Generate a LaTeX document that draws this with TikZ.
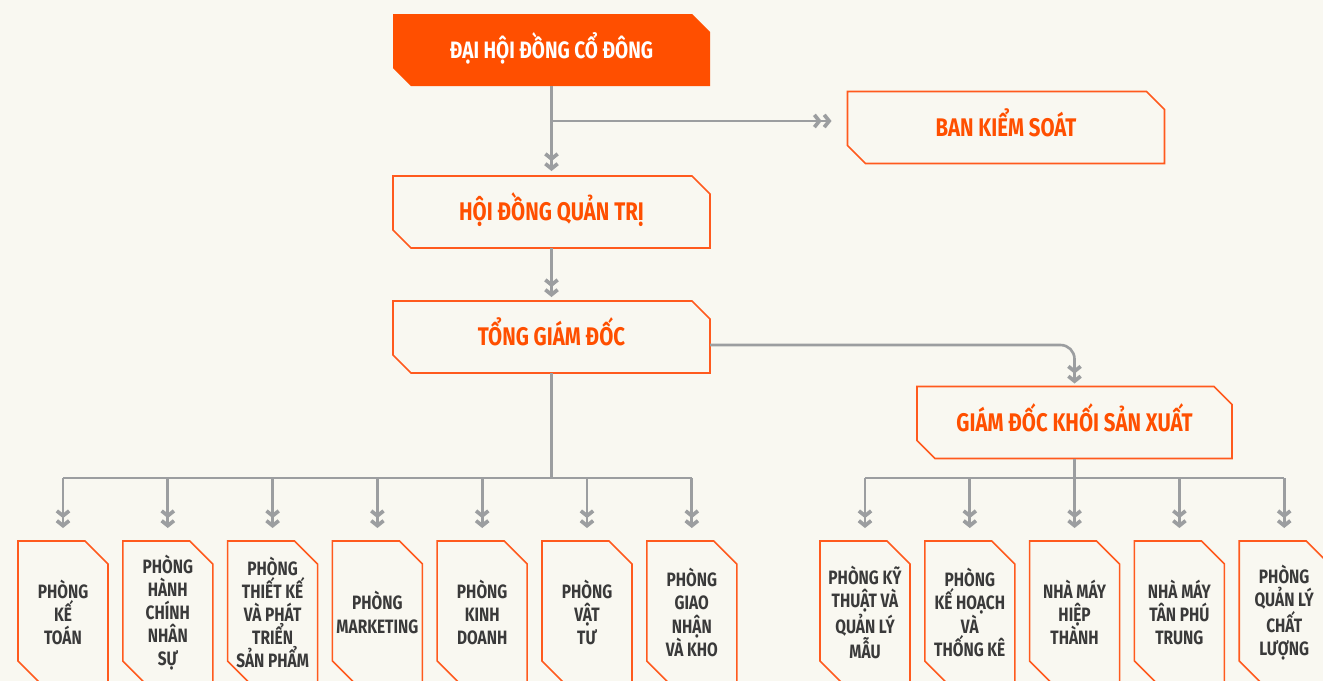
\documentclass[tikz,border=0pt]{standalone}
\usepackage{fontspec}
\newfontfamily\orgfont{Fira Sans}[FakeStretch=0.8]
\usetikzlibrary{positioning, arrows.meta}

\definecolor{paper}{HTML}{F9F8F1}
\definecolor{orgorange}{HTML}{FF4F00}
\definecolor{frameorange}{HTML}{FF5A1E}
\definecolor{linkgray}{HTML}{9C9EA0}
\definecolor{textgray}{HTML}{3A3A3A}

\pgfdeclarelayer{paperlayer}
\pgfdeclarelayer{background}
\pgfsetlayers{paperlayer,background,main}

\newcommand\cutframe[3][]{%
    \draw[#1] (#2.north west) -- ([xshift=-#3]#2.north east) -- ([yshift=-#3]#2.north east)
        -- (#2.south east) -- ([xshift=#3]#2.south west) -- ([yshift=#3]#2.south west) -- cycle;}

\tikzset{
    dchev/.tip={Straight Barb[length=2.8pt,width=7pt,line width=2.1pt,sep=0.4pt]Straight Barb[length=2.8pt,width=7pt,line width=2.1pt]},
    head/.style={minimum width=6.34cm, minimum height=1.44cm, inner sep=0pt, outer sep=0pt, text=orgorange,
        text height=10pt, text depth=0.3pt, font=\orgfont\bfseries\fontsize{14.5}{16}\selectfont},
    dept/.style={minimum width=1.8cm, minimum height=2.86cm, inner sep=0pt, outer sep=0pt, align=center,
        text=textgray, font=\orgfont\bfseries\fontsize{11}{13.2}\selectfont},
    frame/.style={draw=frameorange, line width=0.9pt, line join=miter},
    bar/.style={draw=linkgray, line width=1.5pt},
    link/.style={bar, -dchev},
}

\begin{document}
\begin{tikzpicture}
    \useasboundingbox (0,0) rectangle (26.46,-13.62);
    \begin{pgfonlayer}{paperlayer}
        \fill[paper] (0,0) rectangle (26.46,-13.62);
    \end{pgfonlayer}

    \node[head, text=white, font=\orgfont\bfseries\fontsize{13.5}{15}\selectfont] (dhdcd) at (11.03,-1.0) {ĐẠI HỘI ĐỒNG CỔ ĐÔNG};
    \node[head] (bks) at (20.12,-2.55) {BAN KIỂM SOÁT};
    \node[head, below=1.8cm of dhdcd] (hdqt) {HỘI ĐỒNG QUẢN TRỊ};
    \node[head, below=1.06cm of hdqt] (tgd) {TỔNG GIÁM ĐỐC};
    \node[head, minimum width=6.3cm] (gdk) at (21.49,-8.45) {GIÁM ĐỐC KHỐI SẢN XUẤT};

    \node[dept] (d1) at (1.26,-12.25) {PHÒNG\\KẾ\\TOÁN};
    \node[dept, right=0.296cm of d1] (d2) {PHÒNG\\HÀNH\\CHÍNH\\NHÂN\\SỰ};
    \node[dept, right=0.296cm of d2] (d3) {PHÒNG\\THIẾT KẾ\\VÀ PHÁT\\TRIỂN\\SẢN PHẨM};
    \node[dept, right=0.296cm of d3] (d4) {PHÒNG\\MARKETING};
    \node[dept, right=0.296cm of d4] (d5) {PHÒNG\\KINH\\DOANH};
    \node[dept, right=0.296cm of d5] (d6) {PHÒNG\\VẬT\\TƯ};
    \node[dept, right=0.296cm of d6] (d7) {PHÒNG\\GIAO\\NHẬN\\VÀ KHO};

    \node[dept] (r1) at (17.3,-12.25) {PHÒNG KỸ\\THUẬT VÀ\\QUẢN LÝ\\MẪU};
    \node[dept, right=0.296cm of r1] (r2) {PHÒNG\\KẾ HOẠCH\\VÀ\\THỐNG KÊ};
    \node[dept, right=0.296cm of r2] (r3) {NHÀ MÁY\\HIỆP\\THÀNH};
    \node[dept, right=0.296cm of r3] (r4) {NHÀ MÁY\\TÂN PHÚ\\TRUNG};
    \node[dept, right=0.296cm of r4] (r5) {PHÒNG\\QUẢN LÝ\\CHẤT\\LƯỢNG};

    \coordinate (split) at (11.03,-2.42);
    \coordinate (busl) at (1.26,-9.56);
    \coordinate (busr) at (17.3,-9.56);

    \begin{pgfonlayer}{background}
        \cutframe[fill=orgorange, draw=none]{dhdcd}{0.36cm}
        \foreach \n in {bks, hdqt, tgd, gdk}
            \cutframe[frame]{\n}{0.36cm};
        \foreach \n in {d1, d2, d3, d4, d5, d6, d7, r1, r2, r3, r4, r5}
            \cutframe[frame]{\n}{0.46cm};
    \end{pgfonlayer}

    \draw[link, shorten >=0.1cm] (dhdcd) -- (hdqt);
    \draw[link, shorten >=0.32cm] (split) -- (split -| bks.west);
    \draw[link, shorten >=0.08cm] (hdqt) -- (tgd);
    \draw[link, shorten >=0.06cm, rounded corners=0.28cm] ([yshift=-0.16cm]tgd.east) -| (gdk.north);

    \draw[bar] (tgd.south) -- (tgd.south |- busl);
    \draw[bar] (busl -| d1) -- (busl -| d7);
    \foreach \n in {d1, d2, d3, d4, d5, d6, d7}
        \draw[link, shorten >=0.26cm] (busl -| \n) -- (\n.north);

    \draw[bar] (gdk.south) -- (gdk.south |- busr);
    \draw[bar] (busr -| r1) -- (busr -| r5);
    \foreach \n in {r1, r2, r3, r4, r5}
        \draw[link, shorten >=0.26cm] (busr -| \n) -- (\n.north);
\end{tikzpicture}
\end{document}
